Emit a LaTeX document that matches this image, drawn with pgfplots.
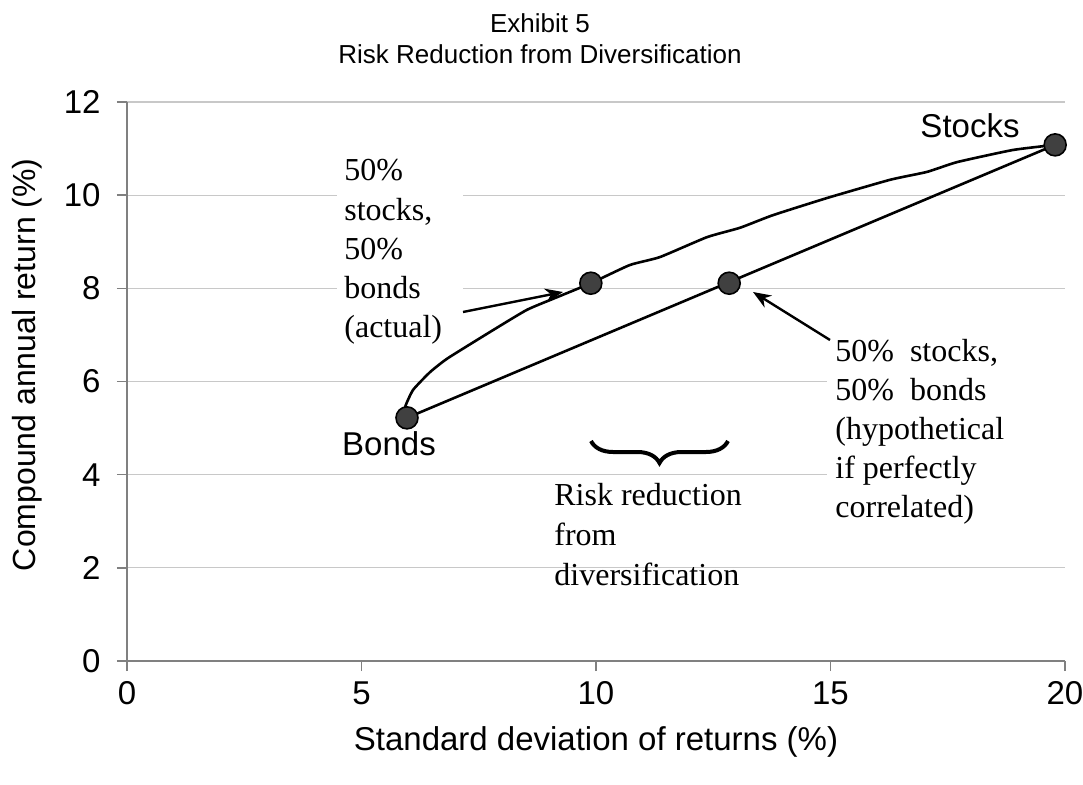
\documentclass[border=0pt]{standalone}
\usepackage{pgfplots}
\pgfplotsset{compat=1.18}
\usepackage{fontspec}
\setmainfont{Liberation Sans}
\newfontfamily\tnr{Liberation Serif}
\usetikzlibrary{decorations.pathreplacing,arrows.meta}
\definecolor{mk}{HTML}{404040}
\definecolor{axgray}{HTML}{808080}
\definecolor{gridgray}{HTML}{C8C8C8}
\begin{document}
\begin{tikzpicture}
\path[use as bounding box] (-63.5pt,-61.5pt) rectangle (478pt,330.5pt);
\begin{axis}[
  at={(0,0)}, anchor=south west,
  scale only axis, width=469pt, height=279.5pt,
  xmin=0, xmax=20, ymin=0, ymax=12,
  xtick={0,5,10,15,20}, ytick={0,2,4,6,8,10,12},
  axis x line*=bottom, axis y line*=left,
  axis line style={axgray, line width=0.8pt},
  tick style={axgray, line width=0.8pt},
  tick align=outside, major tick length=5pt,
  ymajorgrids, grid style={gridgray, line width=0.6pt},
  /pgf/number format/assume math mode=true,
  ticklabel style={font=\fontsize{16.5}{19}\selectfont, inner sep=0pt},
  xticklabel style={anchor=north, yshift=-5pt},
  yticklabel style={anchor=east, xshift=-8pt},
  label style={font=\fontsize{16.5}{19}\selectfont},
  xlabel={Standard deviation of returns (\%)},
  ylabel={Compound annual return (\%)},
  xlabel style={at={(axis description cs:0.5,-0.145)}, anchor=center},
  ylabel style={at={(axis description cs:-0.1066,0.53)}, anchor=center, font=\fontsize{16}{19}\selectfont},
  clip=false,
]
\fill[white] (axis cs:4.478,6.78) rectangle (axis cs:7.164,11.08);
\fill[white] (axis cs:14.925,2.81) rectangle (axis cs:20.3,7.1);
% actual portfolio curve
\addplot[black, line width=1.3pt, smooth, tension=0.3, mark=none] coordinates {
(5.97,5.22) (5.93,5.45) (6.10,5.82) (6.46,6.20) (6.84,6.50) (7.80,7.10)
(8.53,7.54) (9.17,7.81) (9.89,8.11) (10.72,8.50) (11.36,8.67) (12.37,9.10)
(13.07,9.30) (13.77,9.57) (14.93,9.94) (16.27,10.33) (17.06,10.50)
(17.70,10.71) (18.89,10.97) (19.79,11.08)};
% perfectly correlated line
\addplot[black, line width=1.3pt, mark=none] coordinates {(5.97,5.22) (19.79,11.08)};
% markers
\addplot[only marks, mark=*, mark size=5.5pt, mark options={fill=mk, draw=black, line width=0.8pt}] coordinates {
(5.97,5.22) (9.89,8.11) (12.84,8.11) (19.79,11.08)};
\end{axis}
% titles
\node[anchor=base, inner sep=0pt, font=\fontsize{13}{15}\selectfont] at (206.5pt,314.5pt) {Exhibit 5};
\node[anchor=base, inner sep=0pt, font=\fontsize{13}{15}\selectfont] at (206.5pt,299pt) {Risk Reduction from Diversification};
% labels
\node[anchor=base, inner sep=0pt, font=\fontsize{16.5}{19}\selectfont] at (421.5pt,262pt) {Stocks};
\node[anchor=base, inner sep=0pt, font=\fontsize{16.5}{19}\selectfont] at (131pt,103pt) {Bonds};
\begin{scope}[every node/.style={anchor=base west, inner sep=0pt, font=\tnr\fontsize{16}{19}\selectfont}]
\node at (108.5pt,240.5pt) {50\%};
\node at (108.5pt,220.5pt) {stocks,};
\node at (108.5pt,201pt) {50\%};
\node at (108.5pt,181.5pt) {bonds};
\node at (108.5pt,162pt) {(actual)};
\node at (354pt,150pt) {50\%\ \ stocks,};
\node at (354pt,130.5pt) {50\%\ \ bonds};
\node at (354pt,111pt) {(hypothetical};
\node at (354pt,91.5pt) {if perfectly};
\node at (354pt,72pt) {correlated)};
\node at (213.5pt,78pt) {Risk reduction};
\node at (213.5pt,58pt) {from};
\node at (213.5pt,38pt) {diversification};
\end{scope}
\draw[line width=1.2pt, -{Stealth[length=9pt,width=7pt]}] (168pt,174.5pt) -- (218pt,184.5pt);
\draw[line width=1.2pt, -{Stealth[length=9pt,width=7pt]}] (351.5pt,160.5pt) -- (313pt,184.5pt);
\draw[line width=2pt, decorate, decoration={brace, amplitude=11pt, mirror}] (232pt,110pt) -- (300.5pt,110pt);
\end{tikzpicture}
\end{document}
